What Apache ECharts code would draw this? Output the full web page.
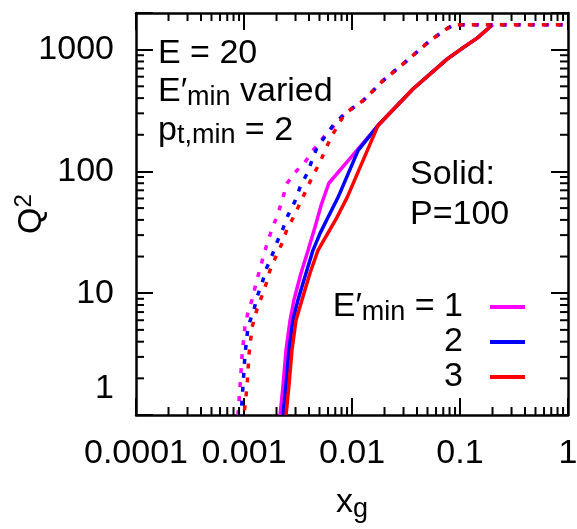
<!DOCTYPE html>
<html><head><meta charset="utf-8">
<script src="https://cdn.jsdelivr.net/npm/echarts@6/dist/echarts.min.js"></script>
<style>html,body{margin:0;padding:0;background:#fff}#c{width:577px;height:529px}#d{position:absolute;left:0;top:470px;font:10px monospace;white-space:pre;color:#fff}</style>
</head><body><div id="c"></div><div id="d"></div>
<script>
const dbg = [];
window.onerror = (m) => { dbg.push('onerror ' + m); document.getElementById('d').textContent = dbg.join('\n'); };
const FONT = '"Liberation Sans", Arial, Helvetica, sans-serif';
const X_MIN = 0.0001, X_MAX = 1, Y_MIN = 1, Y_MAX = 2000;
const xTickLabels = ['0.0001', '0.001', '0.01', '0.1', '1'];
const yTickLabels = ['1', '10', '100', '1000'];
const minorMultipliers = [2, 3, 4, 5, 6, 7, 8, 9];
const xDecades = [0.0001, 0.001, 0.01, 0.1];
const yDecades = [1, 10, 100, 1000];
const legendNames = ['1', '2', '3'];
const colors = ['#ff00ff', '#0000ff', '#ff0000'];

// solid curves (P = 100)
const magentaSolid = [[0.00216,1],[0.0023,1.76],[0.00245,3.41],[0.00267,6.0],[0.0029,8.8],[0.00337,14.6],[0.00392,22.5],[0.00454,34.8],[0.00517,52.6],[0.0061,80],[0.0111,149],[0.0174,238],[0.0367,475],[0.0759,836],[0.107,1040],[0.145,1250],[0.2,1600]];
const blueSolid = [[0.0023,1],[0.00245,1.76],[0.00261,3.41],[0.00284,6.0],[0.00316,8.8],[0.00375,14.6],[0.00435,22.5],[0.00506,31],[0.006,42],[0.00741,61],[0.0114,149],[0.0174,238],[0.0367,475],[0.0759,836],[0.107,1040],[0.145,1250],[0.2,1600]];
const redSolid = [[0.00245,1],[0.00261,1.76],[0.00278,3.41],[0.00303,6.0],[0.00344,8.8],[0.00408,14.6],[0.00484,22.5],[0.00726,42],[0.009,61],[0.0174,238],[0.0367,475],[0.0759,836],[0.107,1040],[0.145,1250],[0.2,1600]];
// dashed curves
const magentaDashed = [[0.00088,1],[0.00092,1.76],[0.00096,3.1],[0.00102,5.3],[0.00109,7],[0.00121,9.3],[0.00129,12.1],[0.00141,16],[0.00153,20.9],[0.00167,27.2],[0.00186,35.4],[0.00207,45.3],[0.00225,57.8],[0.0025,79.7],[0.00296,98],[0.00367,119],[0.00435,149],[0.00562,197],[0.0086,299],[0.0127,382],[0.0194,557],[0.0323,813],[0.0527,1185],[0.076,1490],[0.088,1600],[1,1600]];
const blueDashed = [[0.00094,1],[0.00098,1.76],[0.00102,3.1],[0.00109,5.3],[0.00124,7.4],[0.00132,9.3],[0.00147,12.1],[0.0016,15.7],[0.00182,20.5],[0.00202,26.2],[0.0023,34.1],[0.00255,43.6],[0.00296,56.8],[0.0033,74],[0.00383,96],[0.00426,123],[0.00474,157],[0.00667,238],[0.0086,299],[0.0127,382],[0.0194,557],[0.0323,813],[0.0527,1185],[0.076,1490],[0.088,1600],[1,1600]];
const redDashed = [[0.001,1],[0.00107,1.76],[0.00111,3.1],[0.00119,5.3],[0.00132,7.4],[0.00144,9.1],[0.0016,11.9],[0.00174,15.4],[0.00198,20.1],[0.00225,25.7],[0.0025,33.5],[0.0029,42.8],[0.0033,54.7],[0.00383,72.6],[0.00435,92.7],[0.00506,118.6],[0.00562,148.6],[0.00653,197],[0.0086,299],[0.0127,382],[0.0194,557],[0.0323,813],[0.0527,1185],[0.076,1490],[0.088,1600],[1,1600]];

const solids = [magentaSolid, blueSolid, redSolid];
const dashes = [magentaDashed, blueDashed, redDashed];

const xMinor = [];
xDecades.forEach(d => minorMultipliers.forEach(m => xMinor.push(+(d * m).toPrecision(3))));
const yMinor = [];
yDecades.forEach(d => minorMultipliers.forEach(m => { const v = d * m; if (v < Y_MAX) yMinor.push(v); }));

const MAJOR_LEN = 17, MINOR_LEN = 8, TICK_W = 2, FRAME_W = 2.5;
let calls = 0;

function isDecade(v) { const l = Math.log10(v); return Math.abs(l - Math.round(l)) < 1e-6; }

const rich = {
  a: { fontSize: 34, fontFamily: FONT, color: '#000', lineHeight: 38.5 },
  s: { fontSize: 27, fontFamily: FONT, color: '#000', lineHeight: 17, verticalAlign: 'bottom' }
};

const axisCommon = () => ({
  type: 'log', logBase: 10,
  axisLine: { show: true, lineStyle: { color: '#000', width: FRAME_W } },
  axisTick: { show: true, inside: true, length: MAJOR_LEN, lineStyle: { color: '#000', width: TICK_W } },
  splitLine: { show: false }
});

const series = [];
solids.forEach((d, i) => series.push({
  name: legendNames[i], type: 'line', data: d, xAxisIndex: 0, yAxisIndex: 0,
  symbol: 'none', smooth: false, color: colors[i], itemStyle: { color: colors[i] },
  lineStyle: { color: colors[i], width: 3.5 }, z: 3, silent: true
}));
const dashOffsets = [0, 4.7, 9.3];
dashes.forEach((d, i) => series.push({
  name: 'dashed ' + legendNames[i], type: 'line', data: d, xAxisIndex: 0, yAxisIndex: 0,
  symbol: 'none', smooth: false, color: colors[i],
  lineStyle: { color: colors[i], width: 3.5, type: [5, 9], dashOffset: dashOffsets[i], cap: 'butt' },
  z: 4, silent: true
}));
series.push({
  type: 'custom', xAxisIndex: 0, yAxisIndex: 0, clip: false, z: 6,
  data: xMinor.map(v => [v, Y_MIN]),
  renderItem: (params, api) => { calls++;
    const v = api.value(0);
    const b = api.coord([v, Y_MIN]), t = api.coord([v, Y_MAX]);
    const st = { stroke: '#000', lineWidth: TICK_W };
    return { type: 'group', children: [
      { type: 'line', shape: { x1: b[0], y1: b[1], x2: b[0], y2: b[1] - MINOR_LEN }, style: st },
      { type: 'line', shape: { x1: t[0], y1: t[1], x2: t[0], y2: t[1] + MINOR_LEN }, style: st }
    ] };
  }
});
series.push({
  type: 'custom', xAxisIndex: 0, yAxisIndex: 0, clip: false, z: 6,
  data: yMinor.map(v => [X_MIN, v]),
  renderItem: (params, api) => { calls++;
    const v = api.value(1);
    const l = api.coord([X_MIN, v]), r = api.coord([X_MAX, v]);
    const st = { stroke: '#000', lineWidth: TICK_W };
    return { type: 'group', children: [
      { type: 'line', shape: { x1: l[0], y1: l[1], x2: l[0] + MINOR_LEN, y2: l[1] }, style: st },
      { type: 'line', shape: { x1: r[0], y1: r[1], x2: r[0] - MINOR_LEN, y2: r[1] }, style: st }
    ] };
  }
});

const legendTops = [290, 325, 360];
const legend = legendNames.map((n, i) => ({
  data: [n], orient: 'vertical', align: 'right', right: 52, top: legendTops[i], padding: 0,
  icon: 'rect', itemWidth: 35, itemHeight: 4, selectedMode: false,
  formatter: name => (i === 0 ? '{a|E′}{s|min}{b| = ' + name + '}' : '{b|' + name + '}'),
  textStyle: { fontFamily: FONT, fontSize: 34, color: '#000', rich: {
    a: rich.a, s: rich.s,
    b: { fontSize: 34, fontFamily: FONT, color: '#000', lineHeight: 38.5, padding: [0, 22, 0, 0] }
  } }
}));

const option = {
  animation: false,
  backgroundColor: '#fff',
  grid: { left: 136, right: 9, top: 13, bottom: 114, outerBoundsMode: 'none', containLabel: false },
  legend,
  xAxis: [
    Object.assign(axisCommon(), {
      position: 'bottom', min: X_MIN, max: X_MAX,
      axisLabel: { show: true, margin: 22, fontSize: 34, fontFamily: FONT, color: '#000',
        formatter: v => isDecade(v) ? xTickLabels[Math.round(Math.log10(v)) + 4] : '' },
      name: '{a|x}{s|g}', nameLocation: 'middle', nameGap: 68,
      nameTextStyle: { rich: { a: { fontSize: 34, fontFamily: FONT, color: '#000', lineHeight: 40 },
        s: { fontSize: 27, fontFamily: FONT, color: '#000', lineHeight: 17, verticalAlign: 'bottom' } } }
    }),
    Object.assign(axisCommon(), { position: 'top', min: X_MIN, max: X_MAX, axisLabel: { show: false } })
  ],
  yAxis: [
    Object.assign(axisCommon(), {
      position: 'left', min: Y_MIN, max: Y_MAX,
      axisLabel: { show: true, margin: 22, fontSize: 34, fontFamily: FONT, color: '#000',
        formatter: v => {
          if (!isDecade(v)) return '';
          const i = Math.round(Math.log10(v));
          if (i > 3) return '';
          return i === 0 ? '{up|' + yTickLabels[0] + '}' : yTickLabels[i];
        },
        rich: { up: { fontSize: 34, fontFamily: FONT, color: '#000', padding: [0, 0, 52, 0] } } },
      name: '{a|Q}{p|2}', nameLocation: 'middle', nameRotate: 90, nameGap: 87,
      nameTextStyle: { rich: { a: { fontSize: 34, fontFamily: FONT, color: 'rgba(0,0,0,0)', lineHeight: 40 },
        p: { fontSize: 24, fontFamily: FONT, color: 'rgba(0,0,0,0)', lineHeight: 17, verticalAlign: 'top' } } }
    }),
    Object.assign(axisCommon(), { position: 'right', min: Y_MIN, max: Y_MAX, axisLabel: { show: false } })
  ],
  graphic: [
    { type: 'text', x: 52, y: 214, rotation: Math.PI / 2, silent: true, style: {
      text: '{a|Q}{p|2}',
      rich: { a: { fontSize: 34, fontFamily: FONT, color: '#000', lineHeight: 40 },
        p: { fontSize: 24, fontFamily: FONT, color: '#000', lineHeight: 17, verticalAlign: 'top' } },
      align: 'center', verticalAlign: 'bottom', fill: '#000', font: '34px ' + FONT } },
    { type: 'text', x: 158, y: 34, silent: true, style: {
      text: '{a|E = 20}\n{a|E′}{s|min}{a| varied}\n{a|p}{s|t,min}{a| = 2}',
      rich: rich, align: 'left', verticalAlign: 'top', fill: '#000', font: '34px ' + FONT } },
    { type: 'text', x: 410, y: 155, silent: true, style: {
      text: '{a|Solid:}\n{a|P=100}',
      rich: { a: { fontSize: 34, fontFamily: FONT, color: '#000', lineHeight: 40 } },
      align: 'left', verticalAlign: 'top', fill: '#000', font: '34px ' + FONT } }
  ],
  series
};

try {
const chart = echarts.init(document.getElementById('c'), null, { renderer: 'canvas' });
chart.setOption(option);
dbg.push('calls ' + calls);
} catch (e) { dbg.push('E ' + e.message + ' ' + String(e.stack).slice(0, 400)); }
document.getElementById('d').textContent = dbg.join('\n');
</script>
</body></html>
